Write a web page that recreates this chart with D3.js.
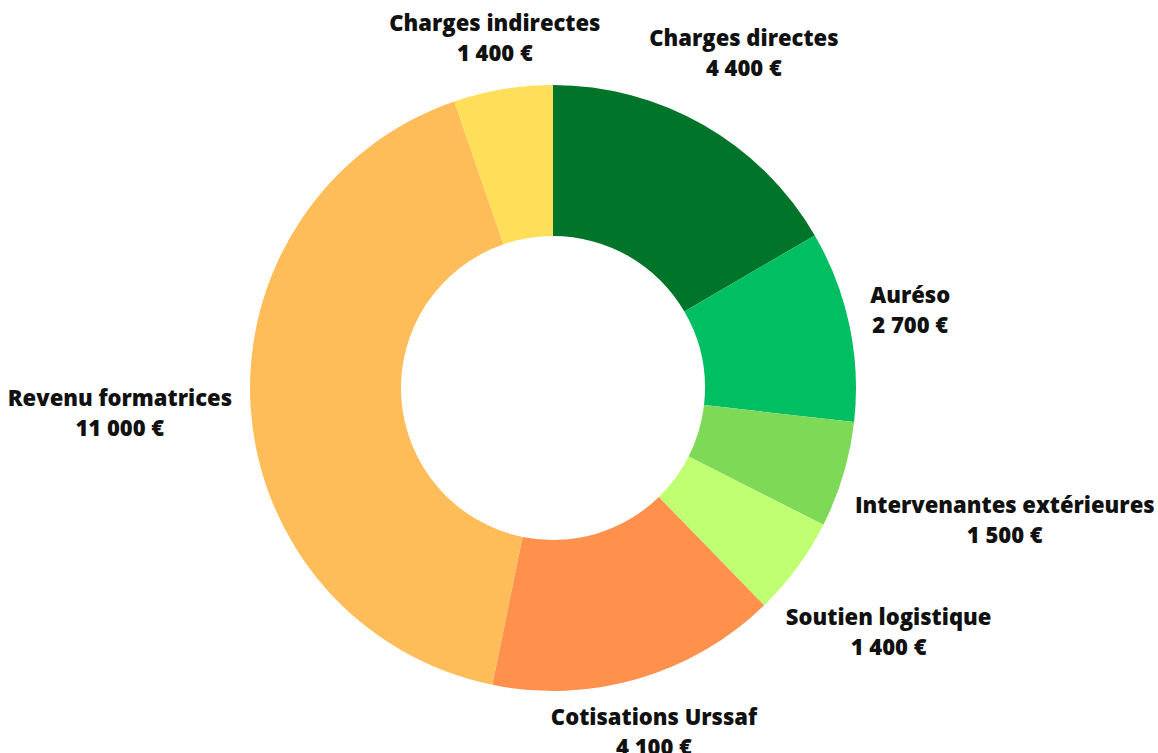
<!DOCTYPE html>
<html>
<head>
<meta charset="utf-8">
<script src="https://cdn.jsdelivr.net/npm/d3@7"></script>
<style>
  body { margin: 0; background: #fff; }
  text { font-family: "Open Sans", sans-serif; font-weight: 800; fill: #111; }
</style>
</head>
<body>
<svg></svg>
<script>
const categories = ["Charges directes", "Auréso", "Intervenantes extérieures", "Soutien logistique",
                    "Cotisations Urssaf", "Revenu formatrices", "Charges indirectes"];
const amounts = [4400, 2700, 1500, 1400, 4100, 11000, 1400];
const colors = ["#00752a", "#00bf63", "#7ed957", "#c1ff72", "#ff914d", "#ffbd59", "#ffde59"];

const width = 1158, height = 753;
const cx = 553, cy = 388;
const outerR = 303, innerR = 152;
const fontSize = 22, lineGap = 30;
const gap = 18;

const data = categories.map((c, i) => ({ name: c, value: amounts[i] }));
const fmt = v => d3.format(",")(v).replace(/,/g, " ") + " €";

const svg = d3.select("svg")
    .attr("width", width)
    .attr("height", height);

const g = svg.append("g").attr("transform", `translate(${cx},${cy})`);

const pie = d3.pie().sort(null).value(d => d.value);
const arc = d3.arc().innerRadius(innerR).outerRadius(outerR);
const arcs = pie(data);

g.selectAll("path")
    .data(arcs)
    .enter()
    .append("path")
    .attr("d", arc)
    .attr("fill", (d, i) => colors[i]);

// labels: placed along the mid-angle, just outside the ring
const labels = g.selectAll(".label")
    .data(arcs)
    .enter()
    .append("g")
    .attr("class", "label")
    .each(function(d) {
        const t = d3.select(this).append("text")
            .style("font-size", fontSize + "px")
            .attr("text-anchor", "middle");
        t.append("tspan").attr("x", 0).attr("y", 0).text(d.data.name);
        t.append("tspan").attr("x", 0).attr("y", lineGap).text(fmt(d.data.value));
    });

labels.each(function(d) {
    const box = this.getBBox();
    // box from cap top of first line to a little under the second line
    const top = -0.72 * fontSize, bottom = lineGap + 6;
    const a = (d.startAngle + d.endAngle) / 2;
    const ux = Math.sin(a), uy = -Math.cos(a);
    const bx = box.x + box.width / 2, by = (top + bottom) / 2;
    const hw = box.width / 2, hh = (bottom - top) / 2;
    const closest = s => {
        const px = s * ux, py = s * uy;
        const qx = Math.max(px - hw, Math.min(0, px + hw));
        const qy = Math.max(py - hh, Math.min(0, py + hh));
        return Math.hypot(qx, qy);
    };
    let lo = 0, hi = 1000;
    for (let k = 0; k < 60; k++) {
        const mid = (lo + hi) / 2;
        if (closest(mid) < outerR + gap) lo = mid; else hi = mid;
    }
    const px = hi * ux - bx, py = hi * uy - by;
    d3.select(this).attr("transform", `translate(${px},${py})`);
});
</script>
</body>
</html>
